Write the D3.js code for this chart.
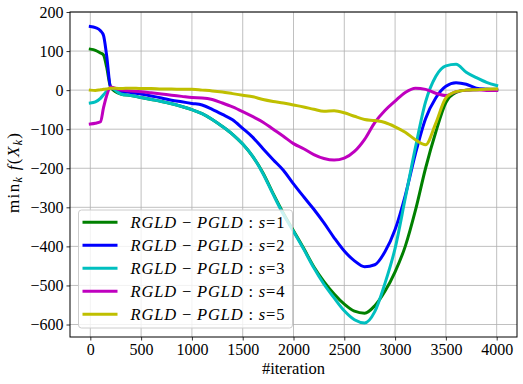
<!DOCTYPE html>
<html>
<head>
<meta charset="utf-8">
<script src="https://cdn.jsdelivr.net/npm/d3@7"></script>
<style>
  body { margin: 0; background: #fff; }
  text { font-family: "Liberation Serif", "DejaVu Serif", serif; }
</style>
</head>
<body>
<script>
// iteration grid the curves were read at
var iters = [0, 50, 100, 130, 160, 200,
  300, 400, 500, 600, 700, 800, 900, 1000, 1100, 1200, 1300, 1400, 1500, 1600, 1700, 1800, 1900,
  2000, 2100, 2200, 2300, 2400, 2500, 2600, 2700, 2800, 2900, 3000, 3100, 3200, 3300, 3400, 3500,
  3600, 3700, 3800, 3900, 4000];

var s1 = [105, 102, 95, 90, 60, 8,
  -10, -14, -19, -24, -29, -35, -42, -50, -60, -75, -93, -113, -138, -170, -212, -265, -315,
  -360, -405, -452, -490, -522, -548, -566, -571, -552, -515, -465, -400, -308, -200, -108, -32,
  -6, 0, 1, 2, 2];

var s2 = [163, 160, 152, 140, 90, 8,
  -3, -6, -10, -15, -20, -26, -30, -34, -38, -49, -62, -76, -98, -121, -150, -178, -205,
  -240, -273, -305, -340, -378, -412, -437, -452, -447, -414, -357, -270, -163, -73, -20, 10,
  19, 15, 5, 2, 0];

var s3 = [-33, -30, -21, -12, -3, 6,
  -10, -14, -19, -24, -29, -35, -42, -50, -60, -75, -93, -113, -138, -170, -214, -267, -318,
  -362, -407, -455, -497, -532, -565, -588, -596, -567, -495, -405, -277, -147, -30, 35, 62,
  66, 46, 32, 20, 12];

var s4 = [-87, -85, -81, -45, -15, 8,
  0, -2, -4, -7, -10, -13, -16, -19, -20, -24, -33, -43, -55, -68, -82, -100, -118,
  -137, -150, -165, -175, -179, -174, -157, -126, -83, -52, -28, -6, 5, 2, -8, -14,
  -4, 0, 1, -1, -1];

var s5 = [0, -1, 1, 2, 3, 5,
  4, 5, 4, 4, 3, 3, 2, 2, 0, -2, -5, -9, -13, -17, -24, -29, -33,
  -38, -43, -49, -54, -53, -58, -67, -75, -78, -83, -94, -108, -127, -140, -85, -20,
  -4, 0, 1, 2, 3];

var seriesVals = [s1, s2, s3, s4, s5];
var seriesNames = ["1", "2", "3", "4", "5"];
var colors = ["#008000", "#0000ff", "#00bfbf", "#bf00bf", "#bfbf00"];
var xTicks = [0, 500, 1000, 1500, 2000, 2500, 3000, 3500, 4000];
var yTicks = [-600, -500, -400, -300, -200, -100, 0, 100, 200];

var W = 523, H = 384,
    margin = {top: 12, right: 6, bottom: 47, left: 70},
    width = W - margin.left - margin.right,
    height = H - margin.top - margin.bottom;

var svg = d3.select("body").append("svg")
    .attr("width", W)
    .attr("height", H);

var g = svg.append("g")
    .attr("transform", "translate(" + margin.left + "," + margin.top + ")");

var x = d3.scaleLinear().domain([-200, 4200]).range([0, width]);
var y = d3.scaleLinear().domain([-632, 200]).range([height, 0]);

// grid
g.append("g").selectAll("line").data(xTicks).enter().append("line")
    .attr("x1", function(d) { return x(d); })
    .attr("x2", function(d) { return x(d); })
    .attr("y1", 0).attr("y2", height)
    .attr("stroke", "#b0b0b0").attr("stroke-width", 0.8);
g.append("g").selectAll("line").data(yTicks).enter().append("line")
    .attr("y1", function(d) { return y(d); })
    .attr("y2", function(d) { return y(d); })
    .attr("x1", 0).attr("x2", width)
    .attr("stroke", "#b0b0b0").attr("stroke-width", 0.8);

var minus = function(d) { return d < 0 ? "\u2212" + Math.abs(d) : "" + d; };

var xAxis = g.append("g")
    .attr("transform", "translate(0," + height + ")")
    .call(d3.axisBottom(x).tickValues(xTicks).tickSize(3.5).tickPadding(3).tickFormat(minus));
var yAxis = g.append("g")
    .call(d3.axisLeft(y).tickValues(yTicks).tickSize(3.5).tickPadding(3).tickFormat(minus));
[xAxis, yAxis].forEach(function(a) {
  a.select(".domain").remove();
  a.selectAll("text").attr("font-size", 16).attr("fill", "#000")
    .style("font-family", "'Liberation Serif', serif");
  a.selectAll("line").attr("stroke", "#000").attr("stroke-width", 0.8);
});

// lines
var line = d3.line()
    .x(function(d, i) { return x(iters[i]); })
    .y(function(d) { return y(d); })
    .curve(d3.curveMonotoneX);

g.append("g").selectAll("path").data(seriesVals).enter().append("path")
    .attr("fill", "none")
    .attr("stroke", function(d, i) { return colors[i]; })
    .attr("stroke-width", 3)
    .attr("stroke-linejoin", "round")
    .attr("stroke-linecap", "square")
    .attr("d", line);

// frame
g.append("rect")
    .attr("width", width).attr("height", height)
    .attr("fill", "none").attr("stroke", "#000").attr("stroke-width", 1);

// legend
var leg = g.append("g").attr("transform", "translate(8.5,198)");
leg.append("rect")
    .attr("width", 214).attr("height", 118)
    .attr("rx", 3)
    .attr("fill", "#fff").attr("fill-opacity", 0.8)
    .attr("stroke", "#cccccc").attr("stroke-width", 1);
seriesNames.forEach(function(s, i) {
  var row = leg.append("g").attr("transform", "translate(0," + (12.3 + i * 23) + ")");
  row.append("line")
      .attr("x1", 4).attr("x2", 39)
      .attr("stroke", colors[i]).attr("stroke-width", 3);
  var t = row.append("text").attr("x", 52).attr("y", 5.5)
      .attr("font-size", 16.5).attr("fill", "#000")
      .attr("textLength", 154).attr("lengthAdjust", "spacing");
  t.append("tspan").attr("font-style", "italic").text("RGLD");
  t.append("tspan").text(" \u2212 ");
  t.append("tspan").attr("font-style", "italic").text("PGLD");
  t.append("tspan").text(" : ");
  t.append("tspan").attr("font-style", "italic").text("s");
  t.append("tspan").text("=" + s);
});

// axis labels
svg.append("text")
    .attr("x", margin.left + x(2000))
    .attr("y", 374)
    .attr("text-anchor", "middle")
    .attr("font-size", 16.5)
    .text("#iteration");

var yl = svg.append("text")
    .attr("transform", "translate(19,173) rotate(-90)")
    .attr("text-anchor", "middle")
    .attr("font-size", 17)
    .attr("textLength", 80).attr("lengthAdjust", "spacing");
yl.append("tspan").text("min");
yl.append("tspan").attr("font-style", "italic").attr("font-size", 12).attr("dy", 3).text("k");
yl.append("tspan").attr("font-style", "italic").attr("dy", -3).text(" f");
yl.append("tspan").text("(");
yl.append("tspan").attr("font-style", "italic").text("X");
yl.append("tspan").attr("font-style", "italic").attr("font-size", 12).attr("dy", 3).text("k");
yl.append("tspan").attr("dy", -3).text(")");
</script>
</body>
</html>
